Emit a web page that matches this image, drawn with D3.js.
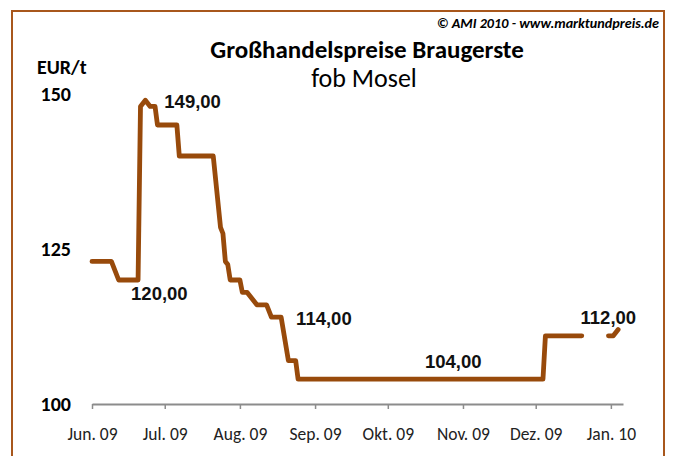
<!DOCTYPE html>
<html>
<head>
<meta charset="utf-8">
<script src="https://cdn.jsdelivr.net/npm/d3@7"></script>
<style>
  body { margin: 0; background: #fff; }
  svg { display: block; }
  .calib { font-family: Carlito, Calibri, Lato, "Open Sans", sans-serif; }
  .arial { font-family: "Liberation Sans", Arial, sans-serif; }
</style>
</head>
<body>
<svg width="673" height="456"></svg>
<script>
// price series (EUR/t), null = gap in the line
var dates = ["2009-06-01","2009-06-09","2009-06-12","2009-06-20","2009-06-21","2009-06-23",
  "2009-06-25","2009-06-27","2009-06-28","2009-07-06","2009-07-07","2009-07-21","2009-07-24",
  "2009-07-25","2009-07-26","2009-07-27","2009-07-28","2009-08-01","2009-08-02","2009-08-04",
  "2009-08-08","2009-08-12","2009-08-14","2009-08-18","2009-08-21","2009-08-24","2009-08-25",
  "2009-12-04","2009-12-05","2009-12-20","2009-12-26","2009-12-31","2010-01-02","2010-01-04"];
var prices = [123,123,120,120,148,149,
  148,148,145,145,140,140,128.5,
  127.5,123,122.5,120,120,118,118,
  116,116,114,114,107,107,104,
  104,111,111,null,111,111,112];

var tickDates = ["2009-06-01","2009-07-01","2009-08-01","2009-09-01","2009-10-01","2009-11-01","2009-12-01","2010-01-01"];
var tickLabels = ["Jun. 09","Jul. 09","Aug. 09","Sep. 09","Okt. 09","Nov. 09","Dez. 09","Jan. 10"];
var yTicks = [100, 125, 150];

// value labels placed next to a point of the series
var noteDates = ["2009-06-23","2009-06-20","2009-08-18","2009-10-28","2010-01-04"];
var noteValues = [149, 120, 114, 104, 112];
var noteTexts = ["149,00","120,00","114,00","104,00","112,00"];

var parse = d3.timeParse("%Y-%m-%d");
var data = dates.map(function(d, i) { return {date: parse(d), value: prices[i]}; });

var svg = d3.select("svg");

var x = d3.scaleTime()
  .domain([parse("2009-06-01"), parse("2010-01-06")])
  .range([92, 623]);
var y = d3.scaleLinear().domain([100, 150]).range([404, 94]);

// frame
svg.append("rect")
  .attr("x", 12).attr("y", 11)
  .attr("width", 652).attr("height", 460)
  .attr("fill", "none")
  .attr("stroke", "#a8571c")
  .attr("stroke-width", 2);

svg.append("text")
  .attr("class", "calib")
  .attr("x", 659).attr("y", 28)
  .attr("text-anchor", "end")
  .style("font-size", "14.2px").style("font-weight", "bold").style("font-style", "italic")
  .text("© AMI 2010 - www.marktundpreis.de");

svg.append("text")
  .attr("class", "calib")
  .attr("x", 367).attr("y", 58)
  .attr("text-anchor", "middle")
  .style("font-size", "25px").style("font-weight", "bold")
  .text("Großhandelspreise Braugerste");

svg.append("text")
  .attr("class", "calib")
  .attr("x", 364).attr("y", 87)
  .attr("text-anchor", "middle")
  .style("font-size", "26px")
  .text("fob Mosel");

svg.append("text")
  .attr("class", "calib")
  .attr("x", 37).attr("y", 74)
  .style("font-size", "20px").style("font-weight", "bold")
  .text("EUR/t");

// y labels, no axis line
svg.selectAll(".ylab")
  .data(yTicks)
  .enter().append("text")
  .attr("class", "ylab calib")
  .attr("x", 71)
  .attr("y", function(d) { return y(d); })
  .attr("dy", "0.35em")
  .attr("text-anchor", "end")
  .style("font-size", "20px").style("font-weight", "bold")
  .text(function(d) { return d; });

// x axis
var xAxis = svg.append("g")
  .attr("transform", "translate(0," + y(100) + ")")
  .call(d3.axisBottom(x)
    .tickValues(tickDates.map(parse))
    .tickSize(5)
    .tickSizeOuter(0)
    .tickPadding(19)
    .tickFormat(function(d, i) { return tickLabels[i]; }));

xAxis.select(".domain").attr("stroke", "#8c8c8c").attr("stroke-width", 2);
xAxis.selectAll(".tick line").attr("stroke", "#8c8c8c").attr("stroke-width", 1.5);
xAxis.selectAll(".tick text")
  .attr("class", "calib")
  .attr("fill", "#222")
  .style("font-size", "17.5px")
  .style("font-family", "Carlito, Calibri, Lato, sans-serif");

// price line
var line = d3.line()
  .defined(function(d) { return d.value !== null; })
  .x(function(d) { return x(d.date); })
  .y(function(d) { return y(d.value); });

svg.append("path")
  .datum(data)
  .attr("d", line)
  .attr("fill", "none")
  .attr("stroke", "#984a0b")
  .attr("stroke-width", 4.8)
  .attr("stroke-linejoin", "round")
  .attr("stroke-linecap", "round");

// value notes
var noteDx = [19, -7, 15, 0, 18];
var noteDy = [8, 20, 8, -11, -6];
var noteAnchor = ["start", "start", "start", "middle", "end"];

svg.selectAll(".note")
  .data(noteTexts)
  .enter().append("text")
  .attr("class", "note arial")
  .attr("x", function(d, i) { return x(parse(noteDates[i])) + noteDx[i]; })
  .attr("y", function(d, i) { return y(noteValues[i]) + noteDy[i]; })
  .attr("text-anchor", function(d, i) { return noteAnchor[i]; })
  .style("font-size", "18.5px").style("font-weight", "bold")
  .attr("fill", "#111")
  .text(function(d) { return d; });
</script>
</body>
</html>
